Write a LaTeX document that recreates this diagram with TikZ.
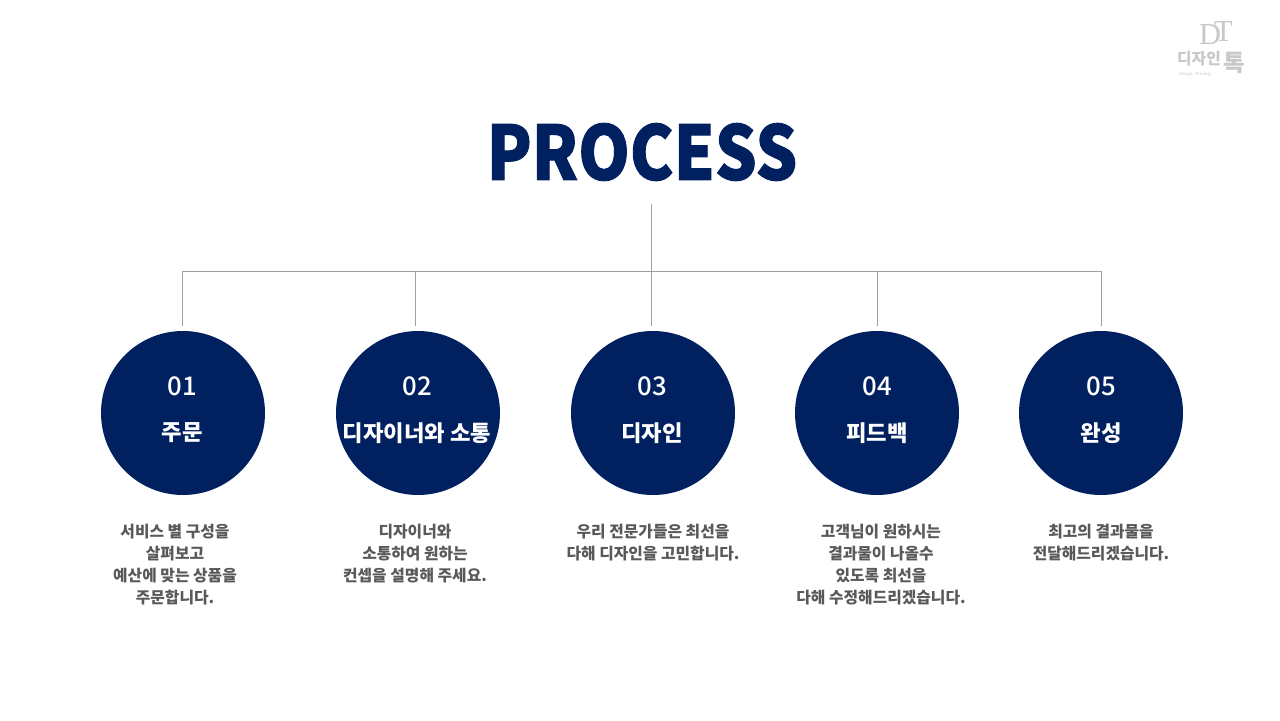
\documentclass[tikz,border=0pt]{standalone}
\usepackage{fontspec}
\setmainfont{Noto Sans CJK KR}
\newfontfamily\serifdt{Liberation Serif}
\newfontfamily\titlefont[BoldFeatures={FakeStretch=0.875, FakeBold=1.2}]{Noto Sans CJK KR}
\newfontfamily\numfont{Noto Sans CJK KR Medium}
\definecolor{navy}{HTML}{012060}
\definecolor{bodygrey}{HTML}{595959}
\definecolor{linegrey}{HTML}{A0A0A0}
\definecolor{logogrey}{HTML}{C8C8C8}
\tikzset{
    stepcircle/.style={circle, fill=navy, minimum size=164*0.03cm, inner sep=0pt},
    numtext/.style={text=white, font=\numfont\fontsize{22}{22}\selectfont},
    nametext/.style={text=white, font=\bfseries\fontsize{19}{19}\selectfont},
    bodytext/.style={text=bodygrey, align=center, font=\bfseries\fontsize{13.5}{19}\selectfont},
    treeline/.style={draw=linegrey, line width=0.75pt}
}
\begin{document}
\begin{tikzpicture}[x=0.03cm, y=-0.03cm]
    \useasboundingbox (0,0) rectangle (1280,720);
    % Title
    \node[text=navy, font=\titlefont\bfseries\fontsize{64}{64}\selectfont] (title) at (642,152) {PROCESS};

    % Logo
    \node[text=logogrey, font=\serifdt\fontsize{26}{26}\selectfont, inner sep=0pt] (logoDT) at (1216,33) {D\kern-6pt\raisebox{2pt}{T}};
    \node[text=logogrey, font=\bfseries\fontsize{13.5}{13.5}\selectfont, inner sep=0pt] (logoname) at (1199,58.5) {디자인};
    \node[text=logogrey, font=\bfseries\fontsize{20}{20}\selectfont, inner sep=0pt] (logolast) at (1234,63) {톡};
    \node[text=logogrey, font=\serifdt\fontsize{4}{4}\selectfont, inner sep=0pt] (logosub) at (1195,74) {Design / Printing};

    % Circles
    \foreach \i/\x/\tx/\num/\name in {1/183/182/01/주문, 2/418/417/02/디자이너와 소통, 3/653/652/03/디자인, 4/877/877/04/피드백, 5/1101/1101/05/완성} {
        \node[stepcircle] (C\i) at (\x,413) {};
        \node[numtext] (N\i) at (\tx,386) {\num};
        \node[nametext] (L\i) at (\tx,433) {\name};
    }

    % Descriptions
    \node[bodytext] (D1) at (175,564.5) {서비스 별 구성을\\살펴보고\\예산에 맞는 상품을\\주문합니다.};
    \node[bodytext] (D2) at (415,553.5) {디자이너와\\소통하여 원하는\\컨셉을 설명해 주세요.};
    \node[bodytext] (D3) at (653,542.5) {우리 전문가들은 최선을\\다해 디자인을 고민합니다.};
    \node[bodytext] (D4) at (881,564.5) {고객님이 원하시는\\결과물이 나올수\\있도록  최선을\\다해 수정해드리겠습니다.};
    \node[bodytext] (D5) at (1101,542.5) {최고의 결과물을\\전달해드리겠습니다.};

    % Connecting lines
    \coordinate (top) at (651.5,204);
    \coordinate (mid) at (651.5,271);
    \coordinate (left) at (182.5,271);
    \coordinate (right) at (1101.5,271);
    \draw[treeline] (top) -- (mid);
    \draw[treeline] (left) -- (right);
    \foreach \i/\x in {1/182.5, 2/415.5, 3/651.5, 4/877.5, 5/1101.5} {
        \coordinate (B\i) at (\x,271);
        \coordinate (E\i) at (\x,326);
        \draw[treeline] (B\i) -- (E\i);
    }
\end{tikzpicture}
\end{document}
